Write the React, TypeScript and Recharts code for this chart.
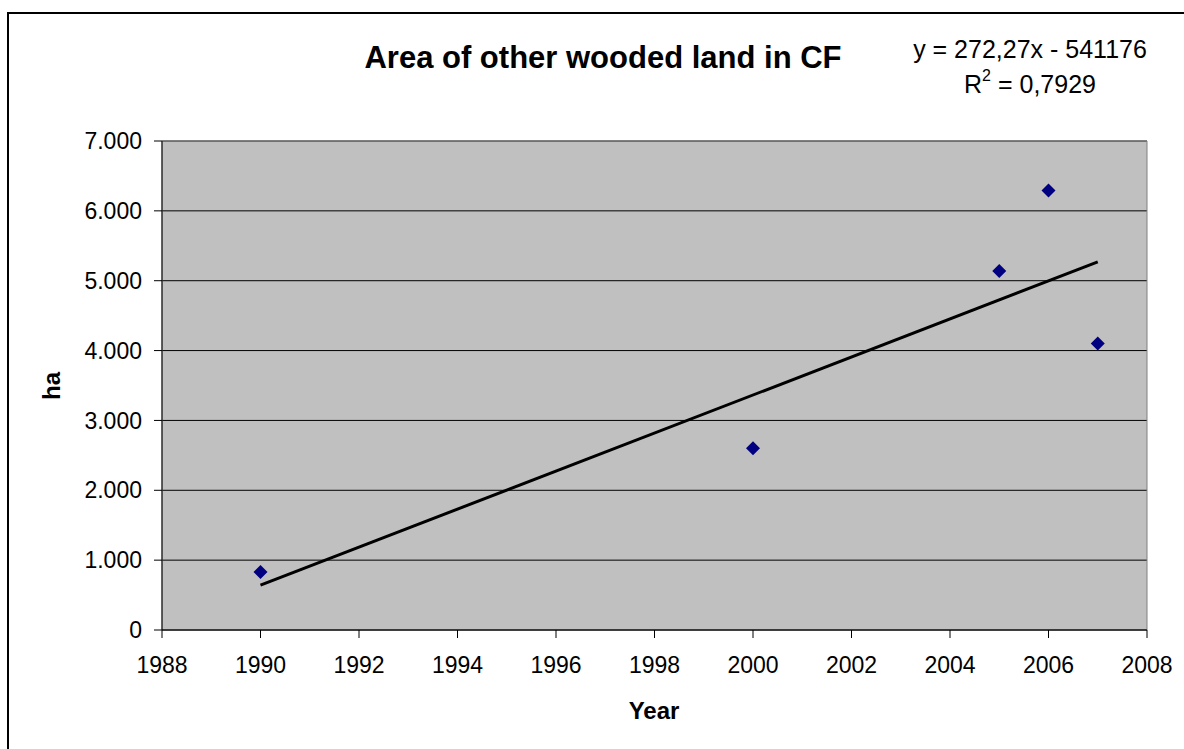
import React from "react";
import {
  ScatterChart,
  Scatter,
  XAxis,
  YAxis,
  CartesianGrid,
  ReferenceArea,
} from "recharts";

// values
const years = [1990, 2000, 2005, 2006, 2007];
const areaHa = [830, 2600, 5140, 6290, 4100];

const xTicks = [1988, 1990, 1992, 1994, 1996, 1998, 2000, 2002, 2004, 2006, 2008];
const yTicks = [0, 1000, 2000, 3000, 4000, 5000, 6000, 7000];

// linear trend as printed on the chart
const trendSlope = 272.27;
const trendIntercept = -541176;
const trendYears = [1990, 2007];

const points = years.map((x, i) => ({ x, y: areaHa[i] }));
const trend = trendYears.map((x) => ({ x, y: trendSlope * x + trendIntercept }));

const FONT = "'Liberation Sans', Arial, sans-serif";
const W = 1184;
const H = 749;

const fmt = (v: number) => (v === 0 ? "0" : v.toLocaleString("de-DE"));

const Diamond = (props: any) => {
  const { cx, cy } = props;
  if (cx == null || cy == null) return <g />;
  const r = 7;
  return (
    <polygon
      points={`${cx},${cy - r} ${cx + r},${cy} ${cx},${cy + r} ${cx - r},${cy}`}
      fill="#000080"
    />
  );
};

const NoDot = () => <g />;

const App: React.FC = () => {
  return (
    <div style={{ position: "absolute", left: 0, top: 0, width: W, height: H, background: "#fff" }}>
      <ScatterChart
        width={W}
        height={H}
        margin={{ top: 141, right: 37, bottom: 69, left: 82 }}
      >
        <CartesianGrid
          horizontal
          vertical={false}
          stroke="#000"
          fill="#C0C0C0"
          fillOpacity={1}
        />
        <XAxis
          type="number"
          dataKey="x"
          domain={[1988, 2008]}
          ticks={xTicks}
          interval={0}
          height={50}
          stroke="#000"
          tickSize={8}
          tickMargin={19}
          tick={{ fill: "#000", fontSize: 23, fontFamily: FONT }}
        />
        <YAxis
          type="number"
          dataKey="y"
          domain={[0, 7000]}
          ticks={yTicks}
          interval={0}
          width={80}
          stroke="#000"
          tickSize={8}
          tickMargin={12}
          tickFormatter={fmt}
          tick={{ fill: "#000", fontSize: 23, fontFamily: FONT }}
        />
        <ReferenceArea
          x1={1988}
          x2={2008}
          y1={0}
          y2={7000}
          fill="none"
          stroke="#808080"
          strokeWidth={1}
          ifOverflow="visible"
        />
        <Scatter
          data={trend}
          line={{ stroke: "#000", strokeWidth: 3 }}
          shape={NoDot}
          legendType="none"
          isAnimationActive={false}
        />
        <Scatter
          data={points}
          shape={Diamond}
          legendType="none"
          isAnimationActive={false}
        />
      </ScatterChart>

      <svg
        width={W}
        height={H}
        style={{ position: "absolute", left: 0, top: 0, pointerEvents: "none" }}
        fontFamily={FONT}
      >
        <rect x={8} y={13} width={W + 20} height={H + 20} fill="none" stroke="#000" strokeWidth={2} />
        <text x={603} y={68} textAnchor="middle" fontSize={31} fontWeight="bold" fill="#000">
          Area of other wooded land in CF
        </text>
        <text x={1030} y={58} textAnchor="middle" fontSize={25} fill="#000">
          y = 272,27x - 541176
        </text>
        <text x={1030} y={93} textAnchor="middle" fontSize={25} fill="#000">
          R<tspan fontSize={16} dy={-12}>2</tspan>
          <tspan dy={12}> = 0,7929</tspan>
        </text>
        <text x={654} y={719} textAnchor="middle" fontSize={24} fontWeight="bold" fill="#000">
          Year
        </text>
        <text
          x={60}
          y={386}
          textAnchor="middle"
          fontSize={24}
          fontWeight="bold"
          fill="#000"
          transform="rotate(-90 60 386)"
        >
          ha
        </text>
      </svg>
    </div>
  );
};

export default App;
